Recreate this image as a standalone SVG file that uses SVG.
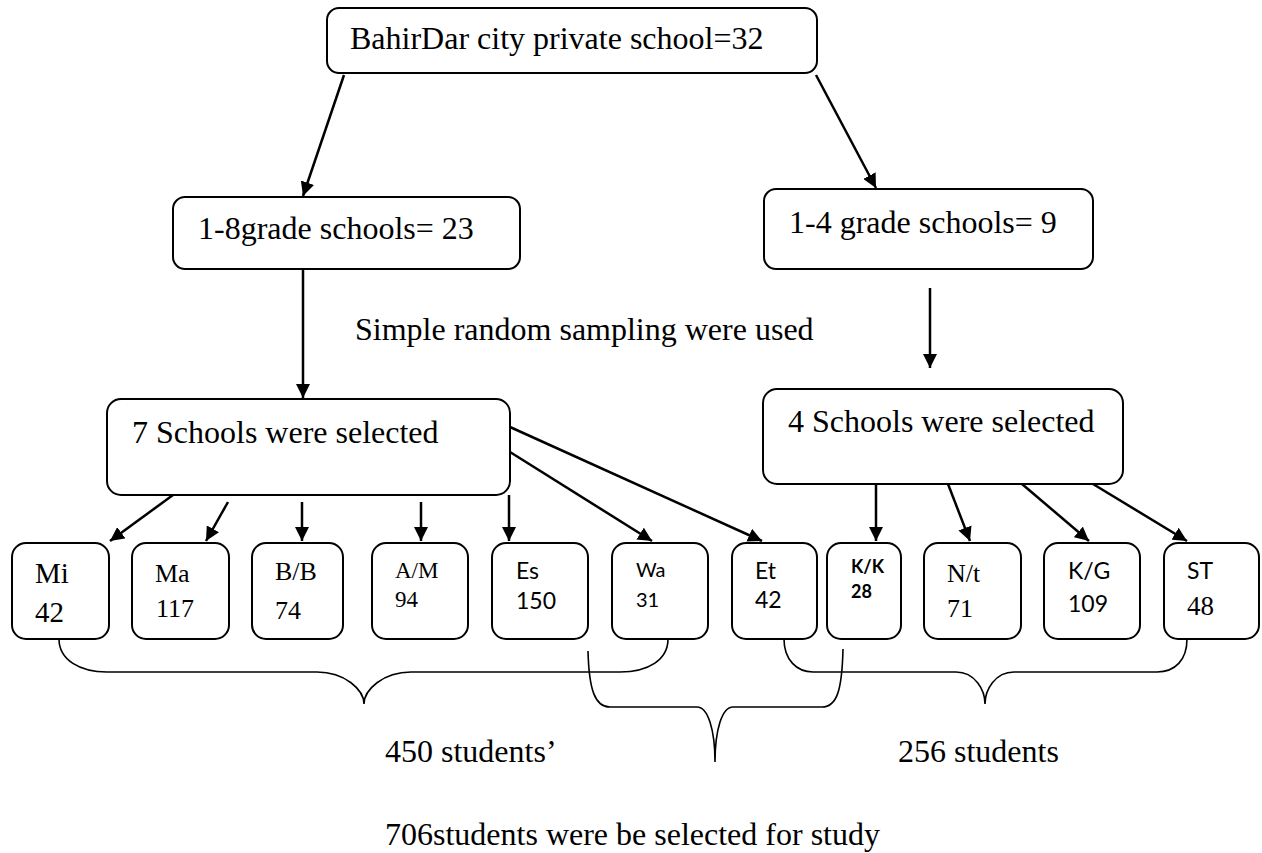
<svg xmlns="http://www.w3.org/2000/svg" width="1262" height="853" viewBox="0 0 1262 853">
<style>
.box{fill:#fff;stroke:#000;stroke-width:2}
.t{font-family:"Liberation Serif","Times New Roman",serif;fill:#000}
.s{font-family:Lato,"Liberation Sans",sans-serif;fill:#000}
.ln{stroke:#000;stroke-width:2.5;fill:none;marker-end:url(#ah)}
.br{stroke:#000;stroke-width:1.6;fill:none}
</style>
<defs>
<marker id="ah" viewBox="0 0 14 14" refX="14" refY="7" markerWidth="14" markerHeight="14" markerUnits="userSpaceOnUse" orient="auto">
<path d="M0,0 L14,7 L0,14 z" fill="#000"/>
</marker>
</defs>
<rect width="1262" height="853" fill="#fff"/>
<g id="connectors">
<line class="ln" x1="344" y1="75" x2="303" y2="196"/>
<line class="ln" x1="816" y1="75" x2="876" y2="188"/>
<line class="ln" x1="303" y1="269" x2="303" y2="398"/>
<line class="ln" x1="930" y1="288" x2="930" y2="368"/>
<line class="ln" x1="173" y1="495" x2="110" y2="541"/>
<line class="ln" x1="228" y1="502" x2="206" y2="541"/>
<line class="ln" x1="302" y1="502" x2="302" y2="541"/>
<line class="ln" x1="421" y1="502" x2="421" y2="541"/>
<line class="ln" x1="509" y1="495" x2="509" y2="541"/>
<line class="ln" x1="510" y1="452" x2="652" y2="541"/>
<line class="ln" x1="510" y1="427" x2="762" y2="541"/>
<line class="ln" x1="876" y1="484" x2="876" y2="541"/>
<line class="ln" x1="948" y1="484" x2="970" y2="541"/>
<line class="ln" x1="1022" y1="484" x2="1089" y2="541"/>
<line class="ln" x1="1093" y1="484" x2="1187" y2="541"/>
</g>
<g id="braces">
<path class="br" d="M59,639 C59,660 80,672 107,672 L317,672 C345,672 364,690 364,704 C364,690 383,672 411,672 L620,672 C648,672 668,660 668,639"/>
<path class="br" d="M588,651 C589,690 595,707 610,707 L697,707 C708,707 715,730 715,762 C715,730 722,707 733,707 L822,707 C837,707 842,690 843,649"/>
<path class="br" d="M784,639 C784,660 797,672 813,672 L956,672 C975,672 985,690 985,704 C985,690 995,672 1014,672 L1157,672 C1175,672 1187,660 1187,639"/>
</g>
<g id="top"><rect class="box" x="327" y="8" width="490" height="65" rx="12"/><text class="t" x="350" y="49" font-size="32">BahirDar city private school=32</text></g>
<g id="g18"><rect class="box" x="173" y="197" width="347" height="72" rx="12"/><text class="t" x="198" y="239" font-size="32">1-8grade schools= 23</text></g>
<g id="g14"><rect class="box" x="764" y="189" width="329" height="80" rx="12"/><text class="t" x="789" y="233" font-size="32">1-4 grade schools= 9</text></g>
<g id="srs"><text class="t" x="355" y="340" font-size="32">Simple random sampling were used</text></g>
<g id="sel7"><rect class="box" x="107" y="399" width="403" height="96" rx="14"/><text class="t" x="132" y="443" font-size="32">7 Schools were selected</text></g>
<g id="sel4"><rect class="box" x="763" y="389" width="360" height="95" rx="14"/><text class="t" x="788" y="432" font-size="32">4 Schools were selected</text></g>
<g id="mi"><rect class="box" x="12" y="543" width="97" height="96" rx="14"/><text class="t" x="35" y="583" font-size="29">Mi</text><text class="t" x="35" y="622" font-size="29">42</text></g>
<g id="ma"><rect class="box" x="132" y="543" width="97" height="96" rx="14"/><text class="t" x="155" y="582" font-size="26">Ma</text><text class="t" x="156" y="617" font-size="26">117</text></g>
<g id="bb"><rect class="box" x="252" y="543" width="91" height="96" rx="14"/><text class="t" x="275" y="580" font-size="26">B/B</text><text class="t" x="275" y="619" font-size="26">74</text></g>
<g id="am"><rect class="box" x="372" y="543" width="96" height="96" rx="14"/><text class="t" x="395" y="578" font-size="23">A/M</text><text class="t" x="395" y="607" font-size="23">94</text></g>
<g id="es"><rect class="box" x="492" y="543" width="96" height="96" rx="14"/><text class="s" x="516" y="579" font-size="23">Es</text><text class="s" x="516" y="609" font-size="23">150</text></g>
<g id="wa"><rect class="box" x="612" y="543" width="96" height="96" rx="14"/><text class="s" x="636" y="577" font-size="20">Wa</text><text class="s" x="636" y="607" font-size="20">31</text></g>
<g id="et"><rect class="box" x="732" y="543" width="85" height="96" rx="14"/><text class="s" x="755" y="579" font-size="23">Et</text><text class="s" x="755" y="608" font-size="23">42</text></g>
<g id="kk"><rect class="box" x="827" y="543" width="74" height="96" rx="14"/><text class="s" x="851" y="573" font-size="18" font-weight="bold">K/K</text><text class="s" x="851" y="598" font-size="18" font-weight="bold">28</text></g>
<g id="nt"><rect class="box" x="924" y="543" width="97" height="96" rx="14"/><text class="t" x="947" y="582" font-size="26">N/t</text><text class="t" x="947" y="617" font-size="26">71</text></g>
<g id="kg"><rect class="box" x="1044" y="543" width="96" height="96" rx="14"/><text class="s" x="1068" y="579" font-size="23">K/G</text><text class="s" x="1068" y="612" font-size="23">109</text></g>
<g id="st"><rect class="box" x="1164" y="543" width="95" height="96" rx="14"/><text class="s" x="1187" y="579" font-size="23">ST</text><text class="t" x="1187" y="615" font-size="27">48</text></g>
<g id="labels">
<text class="t" x="385" y="762" font-size="32">450 students’</text>
<text class="t" x="898" y="762" font-size="32">256 students</text>
<text class="t" x="385" y="845" font-size="32">706students were be selected for study</text>
</g>
</svg>
